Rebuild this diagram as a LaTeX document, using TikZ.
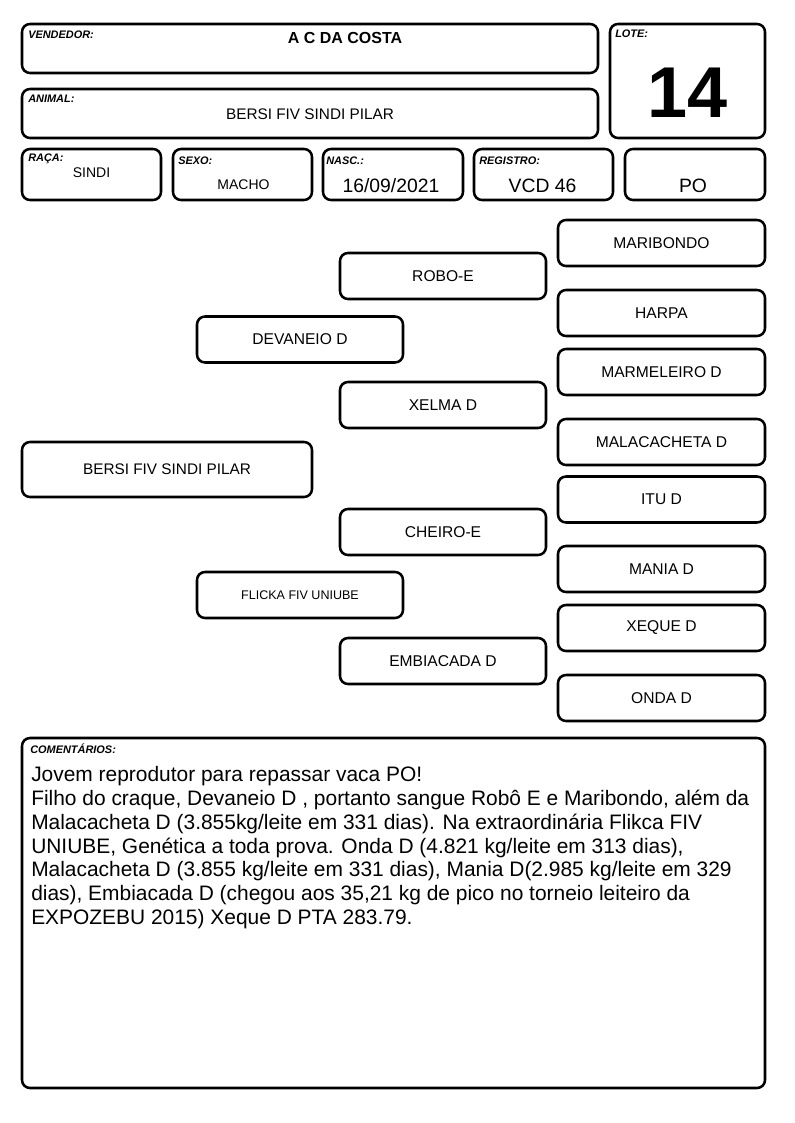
\documentclass[tikz,border=0pt]{standalone}
\usepackage{fontspec}
\setmainfont{Liberation Sans}
\begin{document}
\begin{tikzpicture}[x=0.75pt,y=-0.75pt,
  box/.style={draw=black,line width=1.9pt,rounded corners=6pt,inner sep=0pt,fill=white},
  ped/.style={box,minimum width=154.5pt,minimum height=34.5pt,font=\fontsize{11.7}{13}\selectfont},
  pedr/.style={ped,minimum width=155.25pt},
  lab/.style={anchor=base west,inner sep=0pt,font=\fontsize{8.2}{9}\selectfont\bfseries\itshape},
  val/.style={anchor=base,inner sep=0pt}]
\useasboundingbox[fill=white] (0,0) rectangle (794,1123);
% header boxes
\node[box,minimum width=432pt,minimum height=36.75pt] (vend) at (310,48.5) {};
\node[box,minimum width=116.25pt,minimum height=85.5pt] (lote) at (687.5,81) {};
\node[box,minimum width=432pt,minimum height=36.75pt] (animal) at (310,113.5) {};
\node[box,minimum width=104.25pt,minimum height=38.25pt] (raca) at (91.5,174.5) {};
\node[box,minimum width=104.25pt,minimum height=38.25pt] (sexo) at (242.5,174.5) {};
\node[box,minimum width=105pt,minimum height=38.25pt] (nasc) at (393,174.5) {};
\node[box,minimum width=104.25pt,minimum height=38.25pt] (reg) at (543.5,174.5) {};
\node[box,minimum width=105pt,minimum height=38.25pt] (po) at (695,174.5) {};
% header texts
\node[lab] (lvend) at (28,38.7) {VENDEDOR:};
\node[val,font=\fontsize{12}{14}\selectfont\bfseries] (tvend) at (345,43.7) {A C DA COSTA};
\node[lab] (llote) at (615,38) {LOTE:};
\node[val,font=\fontsize{54}{60}\selectfont\bfseries] (tlote) at (687.5,118) {14};
\node[lab] (lanimal) at (28,102.3) {ANIMAL:};
\node[val,font=\fontsize{11.5}{13}\selectfont] (tanimal) at (310,119.7) {BERSI FIV SINDI PILAR};
\node[lab] (lraca) at (28,162) {RAÇA:};
\node[val,font=\fontsize{10.5}{12}\selectfont] (traca) at (91.5,178) {SINDI};
\node[lab] (lsexo) at (178,164.7) {SEXO:};
\node[val,font=\fontsize{10.5}{12}\selectfont] (tsexo) at (243.5,189.7) {MACHO};
\node[lab] (lnasc) at (326,164.7) {NASC.:};
\node[val,font=\fontsize{14.5}{16}\selectfont] (tnasc) at (391,193) {16/09/2021};
\node[lab] (lreg) at (479,164.7) {REGISTRO:};
\node[val,font=\fontsize{14.5}{16}\selectfont] (treg) at (542.5,193) {VCD 46};
\node[val,font=\fontsize{14.5}{16}\selectfont] (tpo) at (693,193) {PO};
% pedigree
\node[box,minimum width=217.5pt,minimum height=41.25pt,font=\fontsize{11.5}{13}\selectfont] (root) at (167,469.5) {BERSI FIV SINDI PILAR};
\node[ped] (devaneio) at (300,339.5) {DEVANEIO D};
\node[ped,font=\fontsize{9.4}{11}\selectfont] (flicka) at (300,595) {FLICKA FIV UNIUBE};
\node[ped] (robo) at (443,276) {ROBO-E};
\node[ped] (xelma) at (443,405) {XELMA D};
\node[ped] (cheiro) at (443,532) {CHEIRO-E};
\node[ped] (embiacada) at (443,661) {EMBIACADA D};
\node[pedr] (maribondo) at (661.5,243) {MARIBONDO};
\node[pedr] (harpa) at (661.5,313) {HARPA};
\node[pedr] (marmeleiro) at (661.5,372) {MARMELEIRO D};
\node[pedr] (malacacheta) at (661.5,442) {MALACACHETA D};
\node[pedr] (itu) at (661.5,499.5) {ITU D};
\node[pedr] (mania) at (661.5,569) {MANIA D};
\node[pedr] (xeque) at (661.5,628) {XEQUE D};
\node[pedr] (onda) at (661.5,698) {ONDA D};
% comments
\node[box,minimum width=557.25pt,minimum height=262.5pt] (com) at (393.5,913) {};
\node[lab] (lcom) at (30,753) {COMENTÁRIOS:};
\node[anchor=base west,inner sep=0pt] (tcom) at (31,781.7)
{\parbox[t]{555pt}{\raggedright\fontsize{15.7}{17.85}\selectfont
Jovem reprodutor para repassar vaca PO!\\
Filho do craque, Devaneio D , portanto sangue Robô E e Maribondo, além da\\
Malacacheta D (3.855kg/leite em 331 dias). Na extraordinária Flikca FIV\\
UNIUBE, Genética a toda prova. Onda D (4.821 kg/leite em 313 dias),\\
Malacacheta D (3.855 kg/leite em 331 dias), Mania D(2.985 kg/leite em 329\\
dias), Embiacada D (chegou aos 35,21 kg de pico no torneio leiteiro da\\
EXPOZEBU 2015) Xeque D PTA 283.79.}};
\end{tikzpicture}
\end{document}
